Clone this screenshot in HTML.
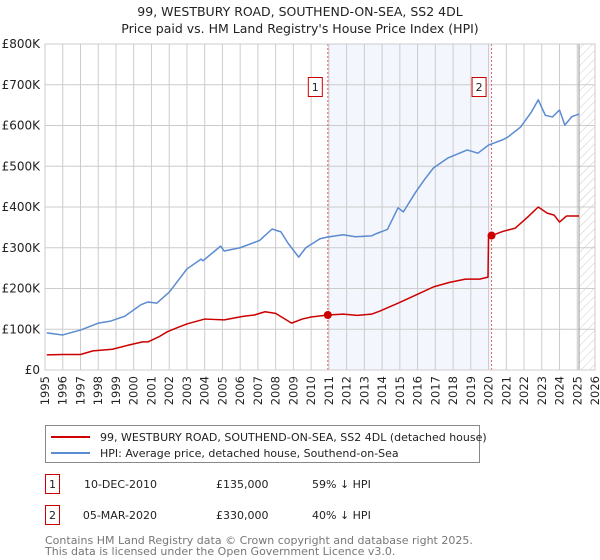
<!DOCTYPE html>
<html><head><meta charset="utf-8"><style>
body{margin:0;background:#fff;}
svg{display:block;font-family:"DejaVu Sans","Liberation Sans",sans-serif;}
</style></head><body>
<svg id="c" width="600" height="560" viewBox="0 0 600 560" xmlns="http://www.w3.org/2000/svg">
<defs><pattern id="hatch" width="6" height="6" patternUnits="userSpaceOnUse" patternTransform="rotate(45)"><line x1="0" y1="0" x2="0" y2="6" stroke="#ccc" stroke-width="1"/></pattern></defs>
<text x="300" y="16" text-anchor="middle" font-size="12.5" fill="#222">99, WESTBURY ROAD, SOUTHEND-ON-SEA, SS2 4DL</text>
<text x="300" y="33" text-anchor="middle" font-size="12.5" fill="#222">Price paid vs. HM Land Registry's House Price Index (HPI)</text>
<g id="plot"></g>
<g>
<rect x="45.5" y="425.5" width="434" height="37" fill="#fff" stroke="#888"/>
<line x1="51" y1="437" x2="90" y2="437" stroke="#cc0000" stroke-width="2"/>
<text x="100" y="441" font-size="11" fill="#222">99, WESTBURY ROAD, SOUTHEND-ON-SEA, SS2 4DL (detached house)</text>
<line x1="51" y1="453" x2="90" y2="453" stroke="#5b8bd0" stroke-width="2"/>
<text x="100" y="457" font-size="11" fill="#222">HPI: Average price, detached house, Southend-on-Sea</text>
</g>
<g font-size="11" fill="#222">
<rect x="45.5" y="474.5" width="14" height="19" fill="#fff" stroke="#cc0000"/>
<text x="52.5" y="488" text-anchor="middle">1</text>
<text x="157" y="488" text-anchor="end">10-DEC-2010</text>
<text x="216" y="488">£135,000</text>
<text x="312" y="488">59% ↓ HPI</text>
<rect x="45.5" y="505.5" width="14" height="19" fill="#fff" stroke="#cc0000"/>
<text x="52.5" y="519" text-anchor="middle">2</text>
<text x="157" y="519" text-anchor="end">05-MAR-2020</text>
<text x="216" y="519">£330,000</text>
<text x="312" y="519">40% ↓ HPI</text>
</g>
<text x="45" y="544" font-size="11" fill="#777">Contains HM Land Registry data © Crown copyright and database right 2025.</text>
<text x="45" y="555" font-size="11" fill="#777">This data is licensed under the Open Government Licence v3.0.</text>
</svg>
<script>
const yTicks=[0,100,200,300,400,500,600,700,800];
const yTickLabels=["£0","£100K","£200K","£300K","£400K","£500K","£600K","£700K","£800K"];
const years=[1995,1996,1997,1998,1999,2000,2001,2002,2003,2004,2005,2006,2007,2008,2009,2010,2011,2012,2013,2014,2015,2016,2017,2018,2019,2020,2021,2022,2023,2024,2025,2026];
const hpiYears=[1995.1,1996,1997,1998,1998.7,1999.5,2000.4,2000.8,2001.3,2002,2002.6,2003,2003.8,2003.9,2004.9,2005.1,2006,2007.1,2007.8,2008.3,2008.7,2009.3,2009.7,2010.5,2010.9,2011.8,2012.5,2013.4,2013.7,2014.3,2014.9,2015.2,2015.9,2016.4,2016.9,2017.7,2018.8,2019.4,2020.0,2020.8,2021.1,2021.8,2022.4,2022.8,2023.2,2023.6,2024.0,2024.3,2024.7,2025.1];
const hpiValues=[91,86,98,115,120,132,160,167,164,191,225,248,272,268,304,292,300,318,346,339,311,277,300,322,326,332,327,329,335,345,398,388,437,468,496,520,540,532,552,565,572,596,632,663,625,621,638,601,622,628];
const ppYears=[1995.1,1996,1997,1997.7,1998.8,1999.7,2000.5,2000.8,2001.4,2001.9,2002.4,2003,2004,2005.1,2006.2,2006.8,2007.4,2008,2008.9,2009.5,2010,2010.94,2011.8,2012.6,2013.4,2013.9,2014.9,2015.9,2016.9,2017.8,2018.7,2019.5,2019.97,2020.0,2020.17,2020.8,2021.5,2022.2,2022.8,2023.3,2023.7,2024.0,2024.4,2025.1];
const ppValues=[37,38,38,47,51,61,69,69,81,94,103,113,125,123,132,135,143,139,115,125,130,135,137,134,137,145,164,184,204,215,223,223,228,330,330,340,348,375,400,385,380,363,378,378];
const sales=[{n:"1",year:2010.94,price:135},{n:"2",year:2020.17,price:330}];
const X0=45,X1=595,Y0=370,Y1=44,XMIN=1995,XMAX=2026,YMAX=800;
const x=v=>X0+(v-XMIN)/(XMAX-XMIN)*(X1-X0);
const y=v=>Y0-v/YMAX*(Y0-Y1);
const NS="http://www.w3.org/2000/svg";
const g=document.getElementById('plot');
function mk(t,a,p){const e=document.createElementNS(NS,t);for(const k in a)e.setAttribute(k,a[k]);(p||g).appendChild(e);return e;}
let e;
e=mk('rect',{x:x(sales[0].year),y:Y1,width:x(sales[1].year)-x(sales[0].year),height:Y0-Y1,fill:'#f3f6fd'});


e=mk('rect',{x:x(2025.1),y:Y1,width:X1-x(2025.1),height:Y0-Y1,fill:'url(#hatch)'});


years.forEach(yr=>{
 e=mk('line',{x1:x(yr),x2:x(yr),y1:Y1,y2:Y0,stroke:'#ccc','stroke-width':1});
 
 
 e=mk('text',{x:0,y:0,transform:`translate(${x(yr)+4},376) rotate(-90)`,'text-anchor':'end','font-size':11.5,fill:'#222'});
 e.textContent=yr;
 
 
});
yTicks.forEach((t,i)=>{
 e=mk('line',{x1:X0,x2:X1,y1:y(t),y2:y(t),stroke:'#ccc','stroke-width':1});
 
 
 e=mk('text',{x:40,y:y(t)+4,'text-anchor':'end','font-size':12,fill:'#222'});
 e.textContent=yTickLabels[i];
 
 
});
e=mk('line',{x1:x(2025.1),x2:x(2025.1),y1:Y1,y2:Y0,stroke:'#999','stroke-width':1});


sales.forEach(s=>{
 e=mk('line',{x1:x(s.year),x2:x(s.year),y1:Y1,y2:Y0,stroke:'#e06060','stroke-width':1,'stroke-dasharray':'2,2'});
 
 
});
e=mk('polyline',{points:hpiYears.map((v,i)=>x(v)+','+y(hpiValues[i])).join(' '),fill:'none',stroke:'#5b8bd0','stroke-width':1.5,'stroke-linejoin':'round'});


e=mk('polyline',{points:ppYears.map((v,i)=>x(v)+','+y(ppValues[i])).join(' '),fill:'none',stroke:'#cc0000','stroke-width':1.5,'stroke-linejoin':'round'});


sales.forEach(s=>{
 e=mk('circle',{cx:x(s.year),cy:y(s.price),r:4,fill:'#cc0000'});
 
 
 const bx=x(s.year)-6-14;
 e=mk('rect',{x:bx+0.5,y:77.5,width:14,height:19,fill:'#fff',stroke:'#cc0000'});
 
 
 e=mk('text',{x:bx+7.5,y:91,'text-anchor':'middle','font-size':11,fill:'#222'});
 e.textContent=s.n;
 
 
});
e=mk('rect',{x:X0,y:Y1,width:X1-X0,height:Y0-Y1,fill:'none',stroke:'#ccc'});


</script>
</body></html>
